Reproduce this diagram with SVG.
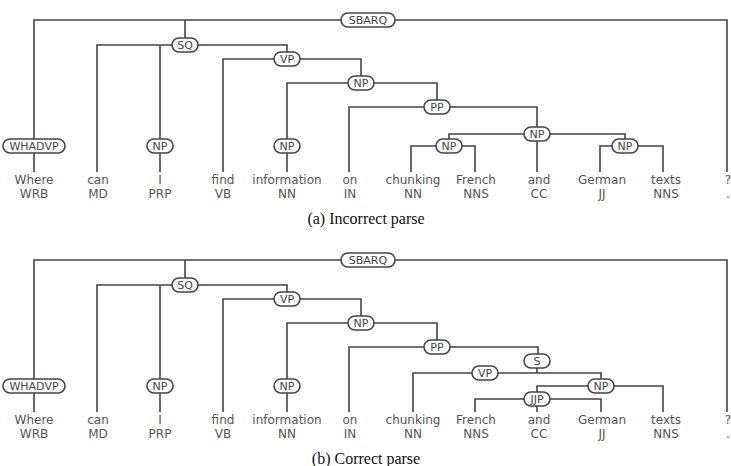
<svg xmlns="http://www.w3.org/2000/svg" width="731" height="466" viewBox="0 0 731 466">
<style>
.e{fill:none;stroke:#444;stroke-width:1.6}
.n rect{fill:#fff;stroke:#444;stroke-width:1.6}
.n text{font-family:"DejaVu Sans",sans-serif;font-size:11px;fill:#444;text-anchor:middle}
.w{font-family:"DejaVu Sans",sans-serif;font-size:12px;fill:#555;text-anchor:middle}
.c{font-family:"Liberation Serif",serif;font-size:16px;fill:#111;text-anchor:middle}
</style>
<rect width="731" height="466" fill="#fff"/>
<g id="connectors">
<path class="e" d="M34,146V20H727V172M185,20V45M97,172V45H287V59M160,45V146M223,172V59H361V83M287,146V83H437V107M349,172V107H537V134M449,146V134H625V146M537,134V172M411,172V146H475V172M600,172V146H663V172M34,146V172M160,146V172M287,146V172"/>
<path class="e" d="M34,386V260H727V412M185,260V285M97,412V285H287V299M160,285V386M223,412V299H361V323M287,386V323H437V347M349,412V347H538V361M537,361V373M413,412V373H601V386M537,399V386H663V412M475,412V399H601V412M537,399V412M34,386V412M160,386V412M287,386V412"/>
</g>
<g id="top-nodes">
<g class="n" id="t-sbarq"><rect x="341" y="13" width="54" height="14" rx="7"/><text x="368" y="24">SBARQ</text></g>
<g class="n" id="t-sq"><rect x="172" y="38" width="26" height="14" rx="7"/><text x="185" y="49">SQ</text></g>
<g class="n" id="t-vp"><rect x="274" y="52" width="26" height="14" rx="7"/><text x="287" y="63">VP</text></g>
<g class="n" id="t-np1"><rect x="348" y="76" width="26" height="14" rx="7"/><text x="361" y="87">NP</text></g>
<g class="n" id="t-pp"><rect x="424" y="100" width="26" height="14" rx="7"/><text x="437" y="111">PP</text></g>
<g class="n" id="t-np2"><rect x="524" y="127" width="26" height="14" rx="7"/><text x="537" y="138">NP</text></g>
<g class="n" id="t-np3"><rect x="436" y="139" width="26" height="14" rx="7"/><text x="449" y="150">NP</text></g>
<g class="n" id="t-np4"><rect x="612" y="139" width="26" height="14" rx="7"/><text x="625" y="150">NP</text></g>
<g class="n" id="t-whadvp"><rect x="3" y="139" width="62" height="14" rx="7"/><text x="34" y="150">WHADVP</text></g>
<g class="n" id="t-np5"><rect x="147" y="139" width="26" height="14" rx="7"/><text x="160" y="150">NP</text></g>
<g class="n" id="t-np6"><rect x="274" y="139" width="26" height="14" rx="7"/><text x="287" y="150">NP</text></g>
</g>
<g id="bottom-nodes">
<g class="n" id="b-sbarq"><rect x="341" y="253" width="54" height="14" rx="7"/><text x="368" y="264">SBARQ</text></g>
<g class="n" id="b-sq"><rect x="172" y="278" width="26" height="14" rx="7"/><text x="185" y="289">SQ</text></g>
<g class="n" id="b-vp"><rect x="274" y="292" width="26" height="14" rx="7"/><text x="287" y="303">VP</text></g>
<g class="n" id="b-np1"><rect x="348" y="316" width="26" height="14" rx="7"/><text x="361" y="327">NP</text></g>
<g class="n" id="b-pp"><rect x="424" y="340" width="26" height="14" rx="7"/><text x="437" y="351">PP</text></g>
<g class="n" id="b-s"><rect x="524" y="354" width="26" height="14" rx="7"/><text x="537" y="365">S</text></g>
<g class="n" id="b-vp2"><rect x="472" y="366" width="26" height="14" rx="7"/><text x="485" y="377">VP</text></g>
<g class="n" id="b-np2"><rect x="588" y="379" width="26" height="14" rx="7"/><text x="601" y="390">NP</text></g>
<g class="n" id="b-jjp"><rect x="524" y="392" width="26" height="14" rx="7"/><text x="537" y="403">JJP</text></g>
<g class="n" id="b-whadvp"><rect x="3" y="379" width="62" height="14" rx="7"/><text x="34" y="390">WHADVP</text></g>
<g class="n" id="b-np5"><rect x="147" y="379" width="26" height="14" rx="7"/><text x="160" y="390">NP</text></g>
<g class="n" id="b-np6"><rect x="274" y="379" width="26" height="14" rx="7"/><text x="287" y="390">NP</text></g>
</g>
<g id="top-words">
<text class="w" x="34" y="184">Where</text><text class="w" x="34" y="198">WRB</text>
<text class="w" x="98" y="184">can</text><text class="w" x="98" y="198">MD</text>
<text class="w" x="160" y="184">I</text><text class="w" x="160" y="198">PRP</text>
<text class="w" x="223" y="184">find</text><text class="w" x="223" y="198">VB</text>
<text class="w" x="287" y="184">information</text><text class="w" x="287" y="198">NN</text>
<text class="w" x="350" y="184">on</text><text class="w" x="350" y="198">IN</text>
<text class="w" x="413" y="184">chunking</text><text class="w" x="413" y="198">NN</text>
<text class="w" x="476" y="184">French</text><text class="w" x="476" y="198">NNS</text>
<text class="w" x="539" y="184">and</text><text class="w" x="539" y="198">CC</text>
<text class="w" x="602" y="184">German</text><text class="w" x="602" y="198">JJ</text>
<text class="w" x="666" y="184">texts</text><text class="w" x="666" y="198">NNS</text>
<text class="w" x="728" y="184">?</text><text class="w" x="728" y="198">.</text>
</g>
<g id="bottom-words">
<text class="w" x="34" y="424">Where</text><text class="w" x="34" y="438">WRB</text>
<text class="w" x="98" y="424">can</text><text class="w" x="98" y="438">MD</text>
<text class="w" x="160" y="424">I</text><text class="w" x="160" y="438">PRP</text>
<text class="w" x="223" y="424">find</text><text class="w" x="223" y="438">VB</text>
<text class="w" x="287" y="424">information</text><text class="w" x="287" y="438">NN</text>
<text class="w" x="350" y="424">on</text><text class="w" x="350" y="438">IN</text>
<text class="w" x="413" y="424">chunking</text><text class="w" x="413" y="438">NN</text>
<text class="w" x="476" y="424">French</text><text class="w" x="476" y="438">NNS</text>
<text class="w" x="539" y="424">and</text><text class="w" x="539" y="438">CC</text>
<text class="w" x="602" y="424">German</text><text class="w" x="602" y="438">JJ</text>
<text class="w" x="666" y="424">texts</text><text class="w" x="666" y="438">NNS</text>
<text class="w" x="728" y="424">?</text><text class="w" x="728" y="438">.</text>
</g>
<text class="c" x="366" y="224">(a) Incorrect parse</text>
<text class="c" x="366" y="464">(b) Correct parse</text>
</svg>
